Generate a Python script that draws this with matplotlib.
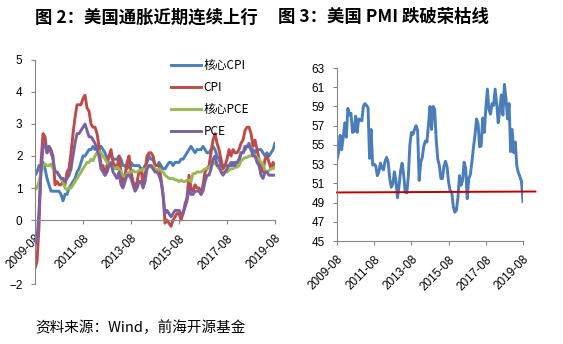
import numpy as np
import matplotlib
matplotlib.use("Agg")
import matplotlib.pyplot as plt

plt.rcParams['font.family'] = ['Noto Sans CJK SC', 'DejaVu Sans']

# monthly data, 2009-08 .. 2019-08
tick_labels = ['2009-08', '2011-08', '2013-08', '2015-08', '2017-08', '2019-08']

core_cpi = [1.4, 1.5, 1.7, 1.7, 1.8,
            1.6, 1.3, 1.1, 0.9, 0.9, 0.9, 0.9, 0.9, 0.8, 0.6, 0.8, 0.8,
            1.0, 1.1, 1.2, 1.3, 1.5, 1.6, 1.8, 2.0, 2.0, 2.1, 2.2, 2.2,
            2.3, 2.2, 2.3, 2.3, 2.3, 2.2, 2.1, 1.9, 2.0, 2.0, 1.9, 1.9,
            1.9, 2.0, 1.9, 1.7, 1.7, 1.6, 1.7, 1.8, 1.7, 1.7, 1.7, 1.7,
            1.6, 1.6, 1.7, 1.8, 2.0, 1.9, 1.9, 1.7, 1.7, 1.8, 1.7, 1.6,
            1.6, 1.7, 1.8, 1.8, 1.7, 1.8, 1.8, 1.8, 1.9, 1.9, 2.0, 2.1,
            2.2, 2.3, 2.2, 2.1, 2.2, 2.2, 2.2, 2.3, 2.2, 2.1, 2.1, 2.2,
            2.3, 2.2, 2.0, 1.9, 1.7, 1.7, 1.7, 1.7, 1.7, 1.8, 1.7, 1.8,
            1.8, 1.8, 2.1, 2.1, 2.2, 2.3, 2.4, 2.2, 2.2, 2.1, 2.2, 2.2,
            2.2, 2.1, 2.0, 2.1, 2.0, 2.1, 2.2, 2.4]

cpi = [-1.5, -1.3, -0.2, 1.8, 2.7,
       2.6, 2.1, 2.3, 2.2, 2.0, 1.1, 1.2, 1.1, 1.1, 1.2, 1.1, 1.5,
       1.6, 2.1, 2.7, 3.2, 3.6, 3.6, 3.6, 3.8, 3.9, 3.5, 3.4, 3.0,
       2.9, 2.9, 2.7, 2.3, 1.7, 1.7, 1.4, 1.7, 2.0, 2.2, 1.8, 1.7,
       1.6, 2.0, 1.5, 1.1, 1.4, 1.8, 2.0, 1.5, 1.2, 1.0, 1.2, 1.5,
       1.6, 1.1, 1.5, 2.0, 2.1, 2.1, 2.0, 1.7, 1.7, 1.7, 1.3, 0.8,
       -0.1, 0.0, -0.1, -0.2, 0.0, 0.1, 0.2, 0.2, 0.0, 0.2, 0.5, 0.7,
       1.4, 1.0, 0.9, 1.1, 1.0, 1.0, 0.8, 1.1, 1.5, 1.6, 1.7, 2.1,
       2.5, 2.7, 2.4, 2.2, 1.9, 1.6, 1.7, 1.9, 2.2, 2.0, 2.2, 2.1,
       2.1, 2.2, 2.4, 2.5, 2.8, 2.9, 2.9, 2.7, 2.3, 2.5, 2.2, 1.9,
       1.6, 1.5, 1.9, 2.0, 1.8, 1.6, 1.8, 1.7]

core_pce = [0.95, 1.0, 1.2, 1.5, 1.7,
            1.75, 1.7, 1.7, 1.75, 1.6, 1.55, 1.5, 1.4, 1.3, 1.2, 1.0, 0.95,
            1.0, 1.0, 1.1, 1.2, 1.3, 1.4, 1.5, 1.6, 1.7, 1.8, 1.8, 1.9,
            1.85, 2.0, 2.1, 2.15, 2.1, 2.0, 1.9, 1.8, 1.7, 1.7, 1.6, 1.6,
            1.65, 1.6, 1.5, 1.4, 1.35, 1.45, 1.5, 1.5, 1.55, 1.5, 1.5, 1.55,
            1.55, 1.6, 1.55, 1.65, 1.7, 1.65, 1.7, 1.6, 1.55, 1.6, 1.55, 1.5,
            1.4, 1.35, 1.3, 1.3, 1.3, 1.25, 1.25, 1.2, 1.25, 1.2, 1.2, 1.25,
            1.25, 1.2, 1.45, 1.45, 1.5, 1.5, 1.5, 1.55, 1.6, 1.6, 1.65, 1.7,
            1.75, 1.8, 1.7, 1.6, 1.55, 1.5, 1.5, 1.5, 1.55, 1.6, 1.6, 1.65,
            1.65, 1.7, 1.85, 1.9, 1.95, 1.95, 2.0, 2.0, 2.05, 2.0, 1.95, 1.9,
            1.8, 1.75, 1.55, 1.5, 1.55, 1.6, 1.6, 1.65]

pce = [-0.8, -0.6, 0.3, 1.5, 2.3,
       2.4, 2.1, 2.3, 2.1, 1.9, 1.5, 1.5, 1.4, 1.3, 1.3, 1.2, 1.3,
       1.4, 1.6, 2.0, 2.4, 2.7, 2.7, 2.8, 2.9, 3.0, 2.8, 2.6, 2.6,
       2.5, 2.4, 2.2, 2.0, 1.6, 1.5, 1.4, 1.5, 1.7, 1.8, 1.5, 1.4,
       1.3, 1.5, 1.1, 1.0, 1.2, 1.4, 1.4, 1.3, 1.1, 0.9, 1.0, 1.2,
       1.2, 1.0, 1.2, 1.6, 1.7, 1.7, 1.6, 1.5, 1.5, 1.4, 1.2, 0.8,
       0.2, 0.3, 0.2, 0.1, 0.2, 0.3, 0.3, 0.3, 0.2, 0.2, 0.4, 0.6,
       1.0, 0.8, 0.8, 0.9, 0.9, 0.9, 0.8, 0.9, 1.2, 1.4, 1.4, 1.6,
       1.9, 2.0, 1.7, 1.7, 1.5, 1.4, 1.5, 1.6, 1.7, 1.7, 1.8, 1.7,
       1.8, 1.9, 2.1, 2.1, 2.3, 2.3, 2.3, 2.2, 2.0, 2.0, 1.8, 1.7,
       1.4, 1.3, 1.5, 1.5, 1.4, 1.4, 1.4, 1.4]

pmi = [53.5, 54.2, 56.0, 54.5, 55.8,
       57.3, 55.8, 58.8, 58.1, 58.3, 56.3, 56.4, 58.0, 56.3, 57.7, 57.6, 57.5,
       59.0, 59.3, 59.1, 58.9, 53.6, 56.6, 52.9, 53.0, 52.8, 51.8, 52.2, 53.1,
       52.6, 52.4, 53.3, 53.7, 53.2, 51.5, 50.6, 50.9, 52.2, 51.3, 49.5, 50.7,
       52.3, 53.1, 51.9, 50.1, 50.0, 51.7, 55.0, 56.3, 56.1, 56.6, 57.0, 56.5,
       51.3, 53.2, 53.7, 54.9, 55.4, 55.3, 57.1, 59.0, 56.6, 59.0, 58.7, 55.5,
       53.5, 52.9, 51.5, 51.5, 52.8, 53.3, 52.7, 51.1, 50.2, 50.1, 48.6, 48.0,
       48.2, 49.5, 51.8, 50.8, 51.3, 53.2, 52.6, 49.4, 51.5, 51.9, 53.2, 54.7,
       56.0, 57.7, 57.2, 54.8, 54.9, 57.8, 56.3, 58.8, 60.8, 58.7, 58.2, 59.3,
       59.1, 60.8, 59.3, 57.3, 58.7, 60.2, 58.1, 61.3, 59.8, 57.7, 59.3, 54.3,
       56.6, 54.2, 55.3, 52.8, 52.1, 51.7, 51.2, 49.1]

# boom/bust line drawn on the PMI chart
line_months = [0, 128]
line_level = [50.05, 50.15]

months = np.arange(len(cpi))
ticks = months[::24]

blue, red, green, purple = '#4A7EBB', '#BE4B48', '#98B954', '#7D60A0'
grey = '#868686'

fig = plt.figure(figsize=(5.63, 3.44), dpi=100)

# left chart: inflation
ax1 = fig.add_axes([0.0622, 0.1744, 0.4263, 0.6512])
ax1.plot(months, core_cpi, color=blue, lw=2.1, label='核心CPI')
ax1.plot(months, cpi, color=red, lw=2.1, label='CPI')
ax1.plot(months, core_pce, color=green, lw=2.1, label='核心PCE')
ax1.plot(months, pce, color=purple, lw=2.1, label='PCE')
ax1.set_xlim(0, 120)
ax1.set_ylim(-2, 5)
ax1.set_yticks([-2, 0, 1, 2, 3, 4, 5])
ax1.spines['bottom'].set_position(('data', 0))
leg = ax1.legend(loc='upper left', bbox_to_anchor=(0.545, 1.025), frameon=False,
                 fontsize=8.5, handlelength=2.6, labelspacing=0.75,
                 handletextpad=0.2, borderaxespad=0)

# right chart: ISM PMI
ax2 = fig.add_axes([0.5986, 0.2994, 0.3304, 0.5029])
ax2.plot(months, pmi, color=blue, lw=2.1)
ax2.plot(line_months, line_level, color='#C00000', lw=1.4, clip_on=False)
ax2.set_xlim(0, 120)
ax2.set_ylim(45, 63)
ax2.set_yticks(np.arange(45, 64, 2))

for ax in (ax1, ax2):
    for s in ('top', 'right'):
        ax.spines[s].set_visible(False)
    for s in ('left', 'bottom'):
        ax.spines[s].set_color(grey)
        ax.spines[s].set_linewidth(0.8)
    ax.set_xticks(ticks)
    ax.set_xticklabels(tick_labels, rotation=45, ha='right', va='top',
                       rotation_mode='anchor')
    ax.tick_params(axis='both', color=grey, length=3, width=0.8,
                   labelsize=8.5, labelcolor='#000000')
    ax.tick_params(axis='y', pad=6)
    ax.tick_params(axis='x', pad=6)
    for lab in ax.get_xticklabels() + ax.get_yticklabels():
        lab.set_fontfamily('Liberation Sans')

fig.text(0.062, 0.95, '图 2：美国通胀近期连续上行', fontsize=12.5, fontweight='bold',
         va='center', ha='left')
fig.text(0.494, 0.95, '图 3：美国 PMI 跌破荣枯线', fontsize=12.5, fontweight='bold',
         va='center', ha='left')
fig.text(0.062, 0.047, '资料来源：Wind，前海开源基金', fontsize=10.5,
         va='center', ha='left')

fig.savefig('out.png', dpi=100)
